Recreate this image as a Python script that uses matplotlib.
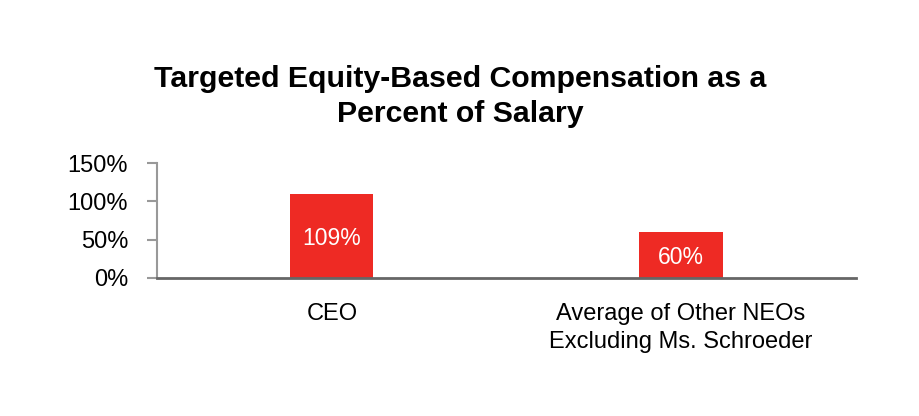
import matplotlib
matplotlib.use('Agg')
import matplotlib.pyplot as plt
from matplotlib.ticker import FuncFormatter

# Datos del gráfico
categories = ['CEO', 'Average of Other NEOs\nExcluding Ms. Schroeder']
values = [109, 60]
labels = ['109%', '60%']
y_ticks = [0, 50, 100, 150]

plt.rcParams['font.family'] = ['Liberation Sans', 'DejaVu Sans']

fig = plt.figure(figsize=(9.2, 4.16), dpi=100)
ax = fig.add_axes([0.171, 0.332, 0.759, 0.276])

red = '#ee2a24'
pos = range(len(categories))
bars = ax.bar(pos, values, width=0.238, color=red)

# Etiquetas dentro de las barras
for b, lab in zip(bars, labels):
  ax.text(b.get_x() + b.get_width() / 2, b.get_height() / 2, lab,
          ha='center', va='center_baseline', color='white', fontsize=16.5)

ax.set_xlim(-0.5, 1.5)
ax.set_ylim(0, 150)
ax.set_yticks(y_ticks)
ax.yaxis.set_major_formatter(FuncFormatter(lambda v, _: f'{v:.0f}%'))
ax.set_xticks(list(pos))
ax.set_xticklabels(categories, linespacing=1.34)

ax.tick_params(axis='y', labelsize=17, length=7, color='#999999', width=1.5, pad=14)
ax.tick_params(axis='x', labelsize=17, length=0, pad=18)

for s in ['top', 'right']:
  ax.spines[s].set_visible(False)
ax.spines['left'].set_color('#999999')
ax.spines['left'].set_linewidth(1.5)
ax.spines['bottom'].set_color('#666666')
ax.spines['bottom'].set_linewidth(2)

fig.text(0.5, 0.767, 'Targeted Equity-Based Compensation as a\nPercent of Salary',
         ha='center', va='center', fontsize=21.8, fontweight='bold', linespacing=1.32)

fig.savefig('out.png', dpi=100)
